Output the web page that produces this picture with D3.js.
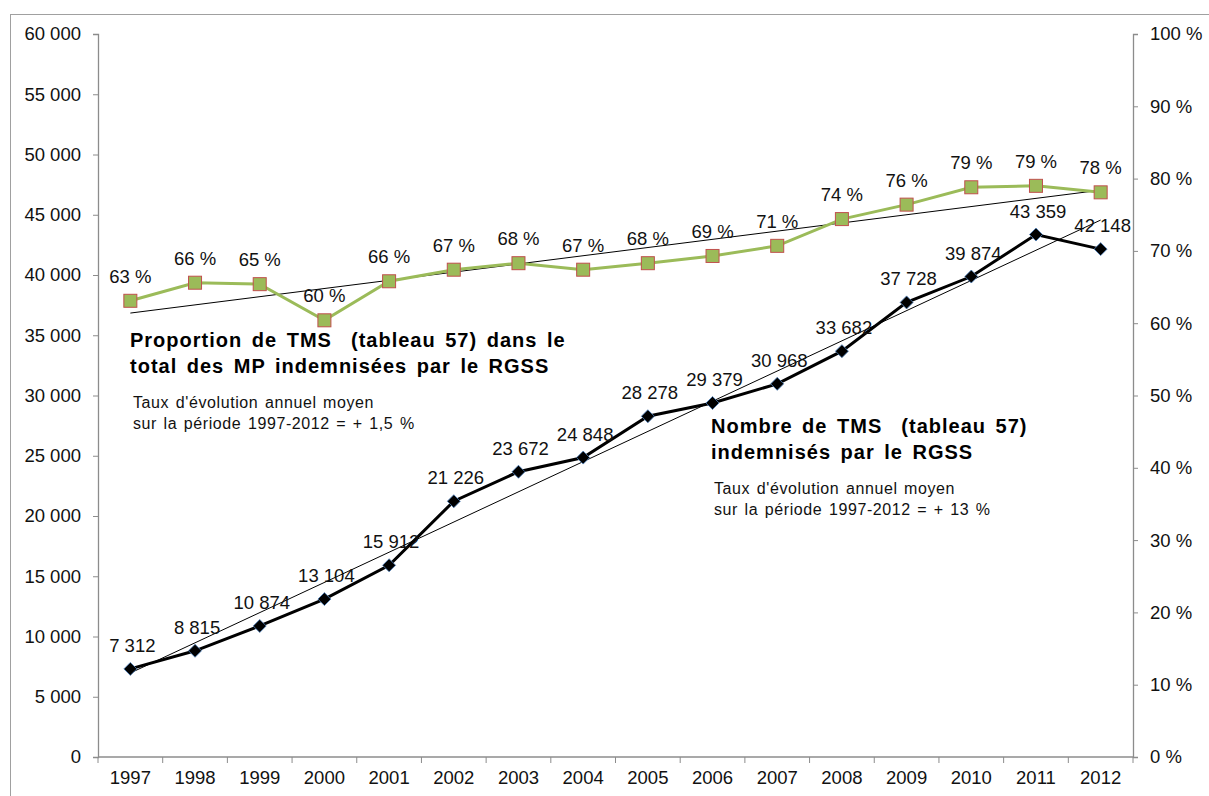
<!DOCTYPE html>
<html>
<head>
<meta charset="utf-8">
<script src="https://cdn.jsdelivr.net/npm/d3@7"></script>
<style>
  body { margin: 0; background: #fff; }
  svg { font-family: "Liberation Sans", Arial, sans-serif; }
</style>
</head>
<body>
<svg id="chart" width="1209" height="796"></svg>
<script>
// data
var years = ["1997","1998","1999","2000","2001","2002","2003","2004","2005","2006","2007","2008","2009","2010","2011","2012"];
var nbTms = [7312, 8815, 10874, 13104, 15912, 21226, 23672, 24848, 28278, 29379, 30968, 33682, 37728, 39874, 43359, 42148];
var partTms = [0.631, 0.656, 0.654, 0.604, 0.658, 0.674, 0.683, 0.674, 0.683, 0.693, 0.707, 0.744, 0.764, 0.788, 0.790, 0.781];
// trend lines (first year, last year)
var trendNb = [6970, 44560];
var trendPart = [0.614, 0.784];
var leftTicks = d3.range(0, 60001, 5000);
var rightTicks = d3.range(0, 1.0001, 0.1);

var svg = d3.select("#chart");
var margin = {left: 98, right: 1133, top: 34, bottom: 757};
var axisColor = "#8c8c8c";

// outer frame
svg.append("rect")
  .attr("x", 10.5).attr("y", 14.5)
  .attr("width", 1220).attr("height", 800)
  .attr("fill", "none").attr("stroke", "#a0a0a0");

var x = d3.scaleBand().domain(years).range([margin.left, margin.right]);
var yL = d3.scaleLinear().domain([0, 60000]).range([margin.bottom, margin.top]);
var yR = d3.scaleLinear().domain([0, 1]).range([margin.bottom, margin.top]);

var fmtNb = function(v) { return d3.format(",")(v).replace(/,/g, " "); };
var fmtPct = function(v) { return Math.round(v * 100) + " %"; };

// left axis
var gL = svg.append("g").attr("transform", "translate(" + margin.left + ",0)")
  .call(d3.axisLeft(yL).tickValues(leftTicks).tickSize(5).tickPadding(12).tickFormat(fmtNb));
// right axis
var gR = svg.append("g").attr("transform", "translate(" + margin.right + ",0)")
  .call(d3.axisRight(yR).tickValues(rightTicks).tickSize(5).tickPadding(12).tickFormat(fmtPct));
// bottom axis, ticks between categories
var gB = svg.append("g").attr("transform", "translate(0," + margin.bottom + ")")
  .call(d3.axisBottom(x).tickSize(0).tickPadding(14));
gB.selectAll(".sep")
  .data(years.concat(["end"]))
  .enter().append("line")
  .attr("x1", (d, i) => margin.left + i * x.step())
  .attr("x2", (d, i) => margin.left + i * x.step())
  .attr("y1", 0).attr("y2", 6)
  .attr("stroke", axisColor);

[gL, gR, gB].forEach(function(g) {
  g.attr("font-family", "Liberation Sans, Arial, sans-serif");
  g.selectAll(".domain").attr("stroke", axisColor).attr("stroke-width", 1.3);
  g.selectAll(".tick line").attr("stroke", axisColor);
  g.selectAll(".tick text").attr("fill", "#111").attr("font-size", "18.5px");
});
gB.select(".domain").attr("d", "M" + margin.left + ",0H" + margin.right);

var cx = d => x(d) + x.bandwidth() / 2;

// trend lines
svg.append("line")
  .attr("x1", cx(years[0])).attr("x2", cx(years[years.length - 1]))
  .attr("y1", yR(trendPart[0])).attr("y2", yR(trendPart[1]))
  .attr("stroke", "#000").attr("stroke-width", 1);
svg.append("line")
  .attr("x1", cx(years[0])).attr("x2", cx(years[years.length - 1]))
  .attr("y1", yL(trendNb[0])).attr("y2", yL(trendNb[1]))
  .attr("stroke", "#000").attr("stroke-width", 1);

// proportion line (right axis)
svg.append("path")
  .datum(partTms)
  .attr("fill", "none").attr("stroke", "#9bbb59").attr("stroke-width", 3)
  .attr("d", d3.line().x((d, i) => cx(years[i])).y(d => yR(d)));
svg.selectAll(".sq")
  .data(partTms).enter().append("rect")
  .attr("x", (d, i) => cx(years[i]) - 6.5)
  .attr("y", d => yR(d) - 6.5)
  .attr("width", 13).attr("height", 13)
  .attr("fill", "#9bbb59").attr("stroke", "#c0504d").attr("stroke-width", 1);
svg.selectAll(".pctLabel")
  .data(partTms).enter().append("text")
  .attr("x", (d, i) => cx(years[i]))
  .attr("y", d => yR(d) - 18)
  .attr("text-anchor", "middle")
  .attr("font-size", "18.5px").attr("fill", "#111")
  .text(fmtPct);

// count line (left axis)
svg.append("path")
  .datum(nbTms)
  .attr("fill", "none").attr("stroke", "#000").attr("stroke-width", 3)
  .attr("d", d3.line().x((d, i) => cx(years[i])).y(d => yL(d)));
svg.selectAll(".dia")
  .data(nbTms).enter().append("path")
  .attr("transform", (d, i) => "translate(" + cx(years[i]) + "," + yL(d) + ")")
  .attr("d", "M0,-6.5L6.5,0L0,6.5L-6.5,0Z")
  .attr("fill", "#000").attr("stroke", "#4f81bd").attr("stroke-width", 0.8);
svg.selectAll(".nbLabel")
  .data(nbTms).enter().append("text")
  .attr("x", (d, i) => cx(years[i]) + 2)
  .attr("y", d => yL(d) - 17)
  .attr("text-anchor", "middle")
  .attr("font-size", "18.5px").attr("fill", "#111")
  .text(fmtNb);

// annotations
function block(x0, y0, title, sub) {
  var t = svg.append("text").attr("font-weight", "bold").attr("font-size", "20px").attr("fill", "#000")
    .attr("xml:space", "preserve").style("white-space", "pre")
    .attr("letter-spacing", 1).attr("word-spacing", 3);
  title.forEach(function(s, i) {
    t.append("tspan").attr("x", x0).attr("y", y0 + i * 26).text(s);
  });
  var u = svg.append("text").attr("font-size", "16px").attr("fill", "#111")
    .attr("letter-spacing", 0.6).attr("word-spacing", 1.5);
  sub.forEach(function(s, i) {
    u.append("tspan").attr("x", x0 + 3).attr("y", y0 + 61 + i * 21).text(s);
  });
}
block(130, 347, ["Proportion de TMS  (tableau 57) dans le", "total des MP indemnisées par le RGSS"],
  ["Taux d'évolution annuel moyen", "sur la période 1997-2012 = + 1,5 %"]);
block(711, 433, ["Nombre de TMS  (tableau 57)", "indemnisés par le RGSS"],
  ["Taux d'évolution annuel moyen", "sur la période 1997-2012 = + 13 %"]);
</script>
</body>
</html>
